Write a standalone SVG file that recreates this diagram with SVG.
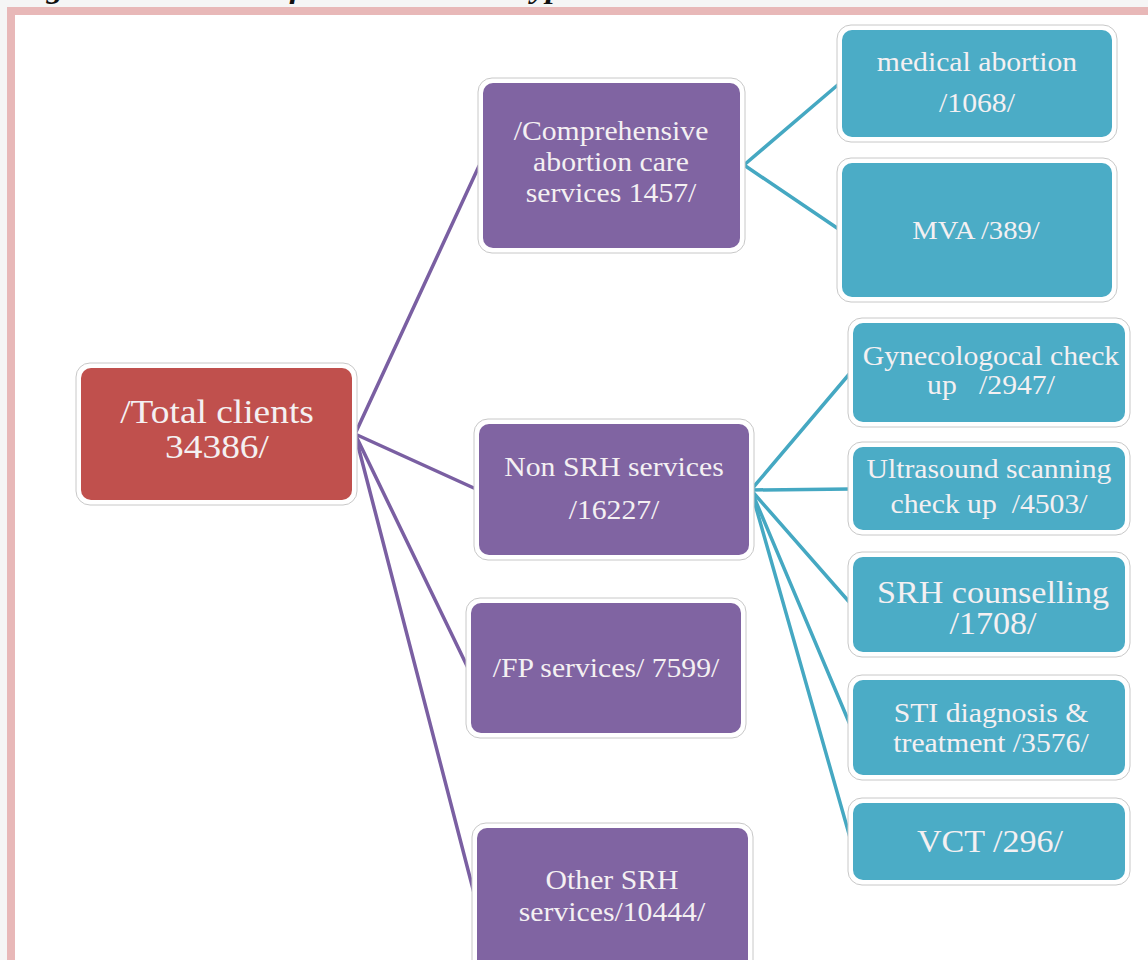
<svg xmlns="http://www.w3.org/2000/svg" width="1148" height="960" viewBox="0 0 1148 960">
<style>
.t{font-family:"Liberation Serif","Times New Roman",serif;fill:#f4f0f2;text-anchor:middle;white-space:pre}
.frame{fill:#ffffff;stroke:#c8c8c8;stroke-width:1}
.red{fill:#c0504d}
.pur{fill:#8064a2}
.teal{fill:#4bacc6}
.cp{stroke:#7a5fa2;stroke-width:3.5;fill:none;stroke-linecap:round}
.ct{stroke:#45a8c2;stroke-width:3.5;fill:none;stroke-linecap:round}
.title{font-family:"Liberation Serif","Times New Roman",serif;font-weight:bold;font-style:italic;fill:#111;text-anchor:end}
</style>
<rect x="0" y="0" width="1148" height="960" fill="#f5f5f5"/>
<g transform="translate(590 -2) scale(1.1 1)"><text class="title" x="0" y="0" font-size="30">Figure 1: Number of services and its types</text></g>
<rect x="11" y="11" width="1150" height="1000" fill="#ffffff" stroke="#e8b8b8" stroke-width="8"/>

<g id="connectors">
<line class="cp" x1="355" y1="434" x2="479" y2="166"/>
<line class="cp" x1="355" y1="434" x2="476" y2="489"/>
<line class="cp" x1="355" y1="434" x2="468" y2="668"/>
<line class="cp" x1="355" y1="434" x2="474" y2="893"/>
<line class="ct" x1="744" y1="165" x2="840" y2="83"/>
<line class="ct" x1="744" y1="165" x2="840" y2="230"/>
<line class="ct" x1="751" y1="490" x2="851" y2="372"/>
<line class="ct" x1="751" y1="490" x2="851" y2="489"/>
<line class="ct" x1="751" y1="490" x2="851" y2="604"/>
<line class="ct" x1="751" y1="490" x2="851" y2="727"/>
<line class="ct" x1="751" y1="490" x2="851" y2="841"/>
</g>

<g id="total">
<rect class="frame" x="76" y="363" width="281" height="142" rx="14"/>
<rect class="red" x="81" y="368" width="271" height="132" rx="10"/>
<g transform="translate(217 0) scale(1.1 1)"><text class="t" x="0" y="423" font-size="34">/Total clients</text><text class="t" x="0" y="458" font-size="34">34386/</text></g>
</g>

<g id="cac">
<rect class="frame" x="478" y="78" width="267" height="175" rx="14"/>
<rect class="pur" x="483" y="83" width="257" height="165" rx="10"/>
<g transform="translate(611 0) scale(1.1 1)"><text class="t" x="0" y="140" font-size="27">/Comprehensive</text><text class="t" x="0" y="171" font-size="27">abortion care</text><text class="t" x="0" y="202" font-size="27">services 1457/</text></g>
</g>

<g id="nonsrh">
<rect class="frame" x="474" y="419" width="280" height="141" rx="14"/>
<rect class="pur" x="479" y="424" width="270" height="131" rx="10"/>
<g transform="translate(614 0) scale(1.1 1)"><text class="t" x="0" y="476" font-size="27">Non SRH services</text><text class="t" x="0" y="519" font-size="27">/16227/</text></g>
</g>

<g id="fp">
<rect class="frame" x="466" y="598" width="280" height="140" rx="14"/>
<rect class="pur" x="471" y="603" width="270" height="130" rx="10"/>
<g transform="translate(606 0) scale(1.1 1)"><text class="t" x="0" y="677" font-size="27">/FP services/ 7599/</text></g>
</g>

<g id="other">
<rect class="frame" x="472" y="823" width="281" height="160" rx="14"/>
<rect class="pur" x="477" y="828" width="271" height="150" rx="10"/>
<g transform="translate(612 0) scale(1.1 1)"><text class="t" x="0" y="889" font-size="27">Other SRH</text><text class="t" x="0" y="921" font-size="27">services/10444/</text></g>
</g>

<g id="medab">
<rect class="frame" x="837" y="25" width="280" height="117" rx="14"/>
<rect class="teal" x="842" y="30" width="270" height="107" rx="10"/>
<g transform="translate(977 0) scale(1.1 1)"><text class="t" x="0" y="71" font-size="27">medical abortion</text><text class="t" x="0" y="112" font-size="27">/1068/</text></g>
</g>

<g id="mva">
<rect class="frame" x="837" y="158" width="280" height="144" rx="14"/>
<rect class="teal" x="842" y="163" width="270" height="134" rx="10"/>
<g transform="translate(976 0) scale(1.1 1)"><text class="t" x="0" y="239" font-size="26">MVA /389/</text></g>
</g>

<g id="gyn">
<rect class="frame" x="848" y="318" width="282" height="109" rx="14"/>
<rect class="teal" x="853" y="323" width="272" height="99" rx="10"/>
<g transform="translate(991 0) scale(1.1 1)"><text class="t" x="0" y="365" font-size="27">Gynecologocal check</text><text class="t" x="0" y="394" font-size="27">up   /2947/</text></g>
</g>

<g id="ultra">
<rect class="frame" x="848" y="442" width="282" height="93" rx="14"/>
<rect class="teal" x="853" y="447" width="272" height="83" rx="10"/>
<g transform="translate(989 0) scale(1.1 1)"><text class="t" x="0" y="478" font-size="27">Ultrasound scanning</text><text class="t" x="0" y="513" font-size="27">check up  /4503/</text></g>
</g>

<g id="srhc">
<rect class="frame" x="848" y="552" width="282" height="105" rx="14"/>
<rect class="teal" x="853" y="557" width="272" height="95" rx="10"/>
<g transform="translate(993 0) scale(1.1 1)"><text class="t" x="0" y="603" font-size="31">SRH counselling</text><text class="t" x="0" y="634" font-size="31">/1708/</text></g>
</g>

<g id="sti">
<rect class="frame" x="848" y="675" width="282" height="105" rx="14"/>
<rect class="teal" x="853" y="680" width="272" height="95" rx="10"/>
<g transform="translate(991 0) scale(1.1 1)"><text class="t" x="0" y="722" font-size="27">STI diagnosis &amp;</text><text class="t" x="0" y="752" font-size="27">treatment /3576/</text></g>
</g>

<g id="vct">
<rect class="frame" x="848" y="798" width="282" height="87" rx="14"/>
<rect class="teal" x="853" y="803" width="272" height="77" rx="10"/>
<g transform="translate(990 0) scale(1.1 1)"><text class="t" x="0" y="852" font-size="31">VCT /296/</text></g>
</g>
</svg>
